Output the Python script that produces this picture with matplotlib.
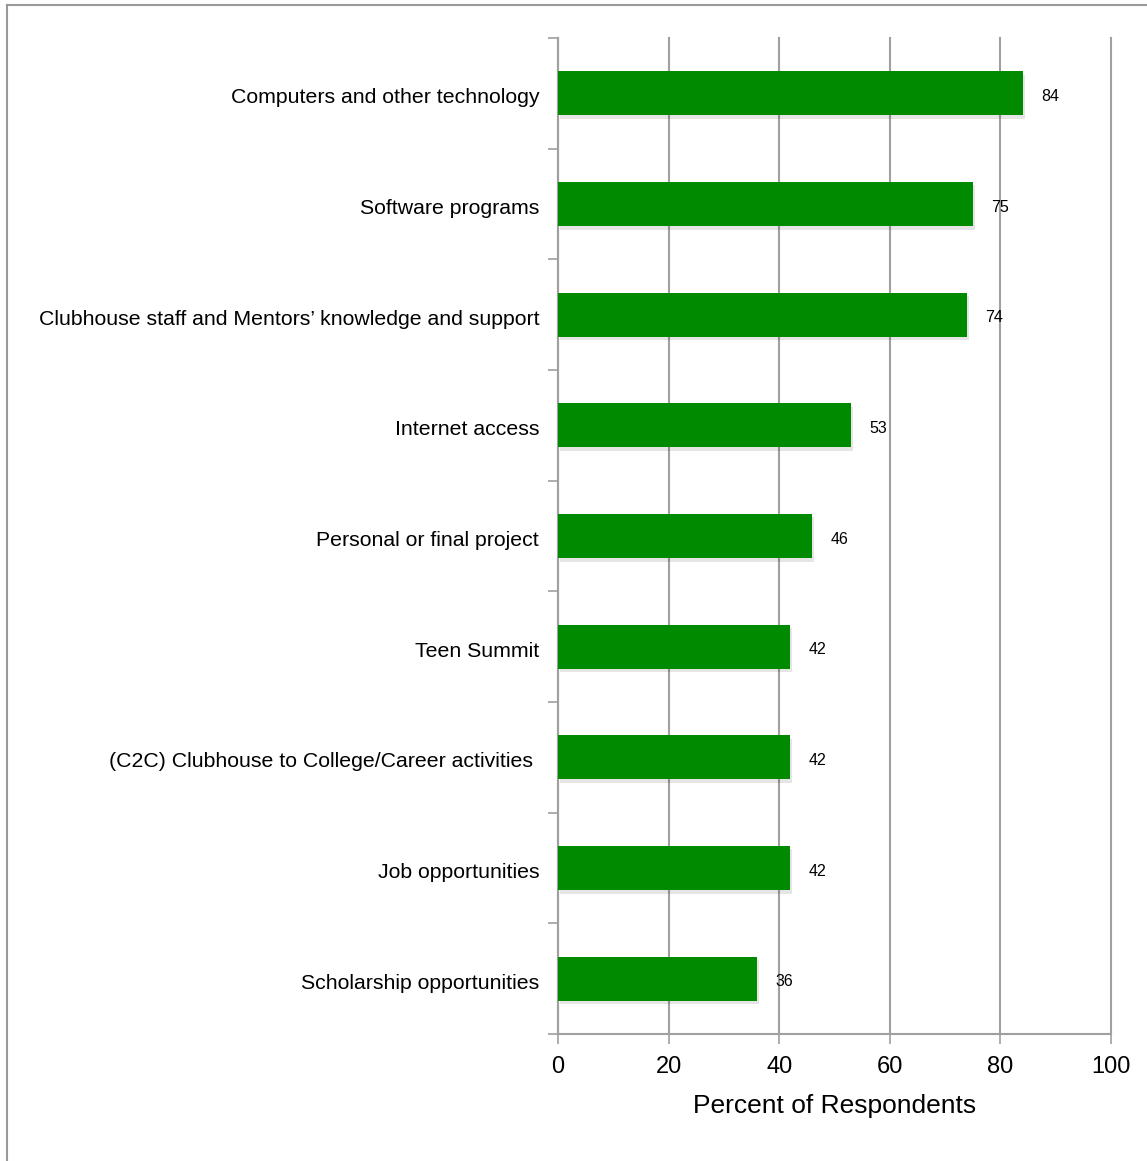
import numpy as np
import matplotlib.pyplot as plt
import matplotlib.patheffects as pe
from matplotlib.lines import Line2D

plt.rcParams['font.family'] = ['Liberation Sans', 'DejaVu Sans']

categories = [
    'Computers and other technology',
    'Software programs',
    'Clubhouse staff and Mentors\u2019 knowledge and support',
    'Internet access',
    'Personal or final project',
    'Teen Summit',
    '(C2C) Clubhouse to College/Career activities ',
    'Job opportunities',
    'Scholarship opportunities',
]
values = [84, 75, 74, 53, 46, 42, 42, 42, 36]
xticks = [0, 20, 40, 60, 80, 100]

grey = '#a0a0a0'
green = '#008a00'

fig = plt.figure(figsize=(11.47, 11.61), dpi=100)
ax = fig.add_axes([558 / 1147, 1 - 1034 / 1161, 553 / 1147, 996 / 1161])

n = len(categories)
y = np.arange(n)
bars = ax.barh(y, values, height=0.4, color=green, zorder=3)
for b in bars:
    b.set_path_effects([pe.SimplePatchShadow(offset=(1.5, -2.5), shadow_rgbFace='#000000', alpha=0.10),
                        pe.Normal()])

for yi, v in zip(y, values):
    ax.text(v + 3.3, yi + 0.03, str(v), va='center', ha='left', fontsize=11.5, zorder=4)

ax.set_xlim(0, 100)
ax.set_ylim(n - 0.5, -0.5)
ax.set_xticks(xticks)
ax.set_xticklabels([str(t) for t in xticks], fontsize=17)
ax.xaxis.grid(True, color=grey, linewidth=1.5, zorder=0)
for gl in ax.get_xgridlines():
    gl.set_clip_on(False)

ax.set_yticks(np.arange(-0.5, n, 1.0))
ax.set_yticklabels([])
ax.tick_params(axis='y', length=7, width=1.2, color=grey)
ax.tick_params(axis='x', length=7, width=1.2, color=grey, pad=9)
for yi, c in zip(y, categories):
    ax.text(-3.4, yi + 0.04, c, ha='right', va='center', fontsize=15.3)

for s in ['top', 'right']:
    ax.spines[s].set_visible(False)
for s in ['left', 'bottom']:
    ax.spines[s].set_color(grey)
    ax.spines[s].set_linewidth(1.5)

ax.set_xlabel('Percent of Respondents', fontsize=19, labelpad=11)

# border of the picture on the left and top edges
fig.add_artist(Line2D([6.5 / 1147, 6.5 / 1147], [0, 1 - 4.5 / 1161], transform=fig.transFigure,
                      color='#999999', linewidth=1.5))
fig.add_artist(Line2D([6.5 / 1147, 1], [1 - 4.5 / 1161, 1 - 4.5 / 1161], transform=fig.transFigure,
                      color='#999999', linewidth=1.5))

fig.savefig('out.png', dpi=100)
